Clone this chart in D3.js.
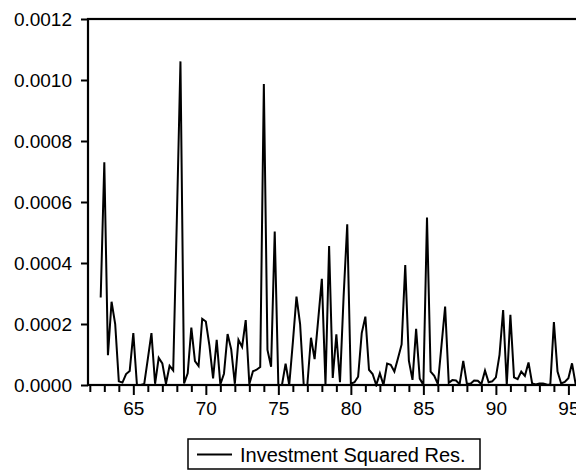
<!DOCTYPE html>
<html>
<head>
<meta charset="utf-8">
<script src="https://cdn.jsdelivr.net/npm/d3@7"></script>
<style>
  html, body { margin: 0; padding: 0; background: #fff; }
  svg { display: block; }
  text { font-family: "Liberation Sans", Arial, Helvetica, sans-serif; fill: #000; }
</style>
</head>
<body>
<svg id="chart" width="576" height="471"></svg>
<script>
// ---- Data (quarterly, first observation 1962Q4) ----
const seriesName = "Investment Squared Res.";
const firstPeriod = 1962.75;   // 1962Q4
const periodStep = 0.25;       // quarterly
const squaredRes = [
  0.000287, 0.000730, 0.000098, 0.000273, 0.000200, 0.000012, 0.000008, 0.000036,
  0.000046, 0.000170, 0.000000, 0.000000, 0.000003, 0.000086, 0.000170, 0.000004,
  0.000089, 0.000071, 0.000004, 0.000063, 0.000048, 0.000540, 0.001061, 0.000005,
  0.000038, 0.000188, 0.000078, 0.000062, 0.000217, 0.000208, 0.000128, 0.000022,
  0.000148, 0.000002, 0.000037, 0.000167, 0.000117, 0.000004, 0.000148, 0.000125,
  0.000213, 0.000003, 0.000045, 0.000050, 0.000059, 0.000987, 0.000115, 0.000060,
  0.000503, 0.000000, 0.000000, 0.000070, 0.000000, 0.000140, 0.000290, 0.000200,
  0.000000, 0.000001, 0.000155, 0.000085, 0.000215, 0.000348, 0.000000, 0.000456,
  0.000023, 0.000166, 0.000009, 0.000290, 0.000527, 0.000004, 0.000009, 0.000027,
  0.000170, 0.000224, 0.000050, 0.000036, 0.000000, 0.000038, 0.000000, 0.000070,
  0.000066, 0.000044, 0.000088, 0.000133, 0.000393, 0.000080, 0.000017, 0.000184,
  0.000021, 0.000000, 0.000549, 0.000044, 0.000030, 0.000003, 0.000130, 0.000257,
  0.000007, 0.000016, 0.000015, 0.000003, 0.000079, 0.000004, 0.000004, 0.000015,
  0.000014, 0.000003, 0.000047, 0.000009, 0.000012, 0.000025, 0.000099, 0.000246,
  0.000000, 0.000230, 0.000025, 0.000019, 0.000044, 0.000030, 0.000074, 0.000005,
  0.000002, 0.000005, 0.000005, 0.000002, 0.000000, 0.000206, 0.000044, 0.000005,
  0.000010, 0.000022, 0.000071, 0.000002
];
const yTicks = [0, 0.0002, 0.0004, 0.0006, 0.0008, 0.0010, 0.0012];
const xMajorTicks = [1965, 1970, 1975, 1980, 1985, 1990, 1995];
const xMinorTicks = [1962, 1963, 1964, 1966, 1967, 1968, 1969, 1971, 1972, 1973, 1974,
  1976, 1977, 1978, 1979, 1981, 1982, 1983, 1984, 1986, 1987, 1988, 1989,
  1991, 1992, 1993, 1994];

const points = squaredRes.map((v, i) => ({ t: firstPeriod + i * periodStep, v }));

// ---- Layout ----
const svg = d3.select("#chart");
const plot = { left: 88, right: 580, top: 19, bottom: 385 };

const x = d3.scaleLinear().domain([1961.875, 1995.8]).range([plot.left, plot.right]);
const y = d3.scaleLinear().domain([0, 0.0012]).range([plot.bottom, plot.top]);

// clip for the line
svg.append("defs").append("clipPath").attr("id", "clip")
  .append("rect").attr("x", plot.left).attr("y", plot.top - 2)
  .attr("width", plot.right - plot.left).attr("height", plot.bottom - plot.top + 4);

// data line
const line = d3.line().x(d => x(d.t)).y(d => y(d.v));
svg.append("path")
  .datum(points)
  .attr("clip-path", "url(#clip)")
  .attr("fill", "none")
  .attr("stroke", "#000")
  .attr("stroke-width", 2)
  .attr("stroke-linejoin", "miter")
  .attr("d", line);

// frame
svg.append("rect")
  .attr("x", plot.left).attr("y", plot.top)
  .attr("width", plot.right - plot.left).attr("height", plot.bottom - plot.top)
  .attr("fill", "none").attr("stroke", "#000").attr("stroke-width", 2.2);

// y axis
const yAxis = d3.axisLeft(y).tickValues(yTicks).tickFormat(d3.format(".4f"))
  .tickSize(7).tickPadding(9);
const gy = svg.append("g").attr("transform", `translate(${plot.left},0)`).call(yAxis);
gy.select(".domain").remove();
gy.selectAll(".tick line").attr("stroke", "#000").attr("stroke-width", 2);
gy.selectAll(".tick text").style("font-size", "19px")
  .style("font-family", "'Liberation Sans', Arial, sans-serif").attr("fill", "#000");

// x axis major
const xAxis = d3.axisBottom(x).tickValues(xMajorTicks).tickFormat(d => String(d % 100).padStart(2, "0"))
  .tickSize(10).tickPadding(7);
const gx = svg.append("g").attr("transform", `translate(0,${plot.bottom})`).call(xAxis);
gx.select(".domain").remove();
gx.selectAll(".tick line").attr("stroke", "#000").attr("stroke-width", 2);
gx.selectAll(".tick text").style("font-size", "19px")
  .style("font-family", "'Liberation Sans', Arial, sans-serif").attr("fill", "#000");

// x axis minor
const xMinor = d3.axisBottom(x).tickValues(xMinorTicks).tickFormat("").tickSize(7);
const gxm = svg.append("g").attr("transform", `translate(0,${plot.bottom})`).call(xMinor);
gxm.select(".domain").remove();
gxm.selectAll(".tick line").attr("stroke", "#000").attr("stroke-width", 2);

// legend
const legW = 292, legH = 30;
const legX = (plot.left + plot.right) / 2 - legW / 2, legY = 439;
const leg = svg.append("g").attr("transform", `translate(${legX},${legY})`);
leg.append("rect").attr("width", legW).attr("height", legH)
  .attr("fill", "#fff").attr("stroke", "#000").attr("stroke-width", 1.5);
leg.append("line").attr("x1", 9).attr("x2", 44).attr("y1", 15.5).attr("y2", 15.5)
  .attr("stroke", "#000").attr("stroke-width", 2);
leg.append("text").attr("x", 52).attr("y", 22.5)
  .style("font-size", "20px").text(seriesName);
</script>
</body>
</html>
